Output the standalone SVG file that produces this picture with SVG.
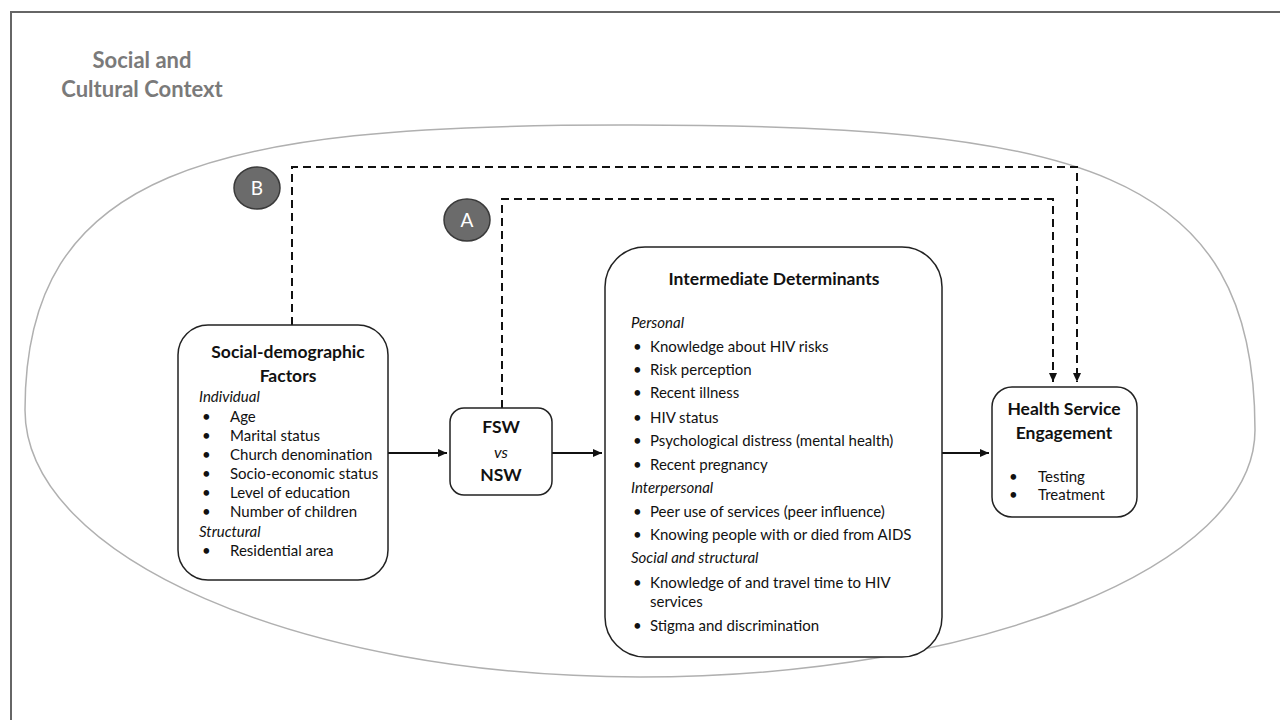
<svg xmlns="http://www.w3.org/2000/svg" width="1280" height="720" viewBox="0 0 1280 720">
<style>
text{font-family:Lato,"Open Sans","Liberation Sans",sans-serif;fill:#111}
.t{font-weight:bold;font-size:17.5px}
.b{font-size:15px}
.i{font-size:15px;font-style:italic}
.box{fill:#fff;stroke:#222;stroke-width:1.5}
.solid{fill:none;stroke:#111;stroke-width:2}
.dash{fill:none;stroke:#111;stroke-width:2;stroke-dasharray:8 5}
.badge{fill:#6b6b6b;stroke:#3a3a3a;stroke-width:1.5}
.bt{fill:#fff;font-size:19px;text-anchor:middle}
</style>
<defs>
<marker id="ah" markerWidth="10" markerHeight="10" refX="9" refY="5" orient="auto" markerUnits="userSpaceOnUse">
<path d="M0,1 L9,5 L0,9 Z" fill="#111"/>
</marker>
</defs>
<rect width="1280" height="720" fill="#fff"/>
<path d="M11,720 V12 H1280" fill="none" stroke="#666" stroke-width="2"/>
<g id="context">
<path d="M25,410 C25,170 210,125 620,125 C1080,124 1255,170 1255,430 C1255,566 979,677 640,677 C300,677 25,557 25,410 Z" fill="none" stroke="#b0b0b0" stroke-width="1.5"/>
<text x="142" y="68" text-anchor="middle" style="fill:#7a7a7a;font-weight:bold;font-size:22px">Social and</text>
<text x="142" y="97" text-anchor="middle" style="fill:#7a7a7a;font-weight:bold;font-size:22px">Cultural Context</text>
</g>
<g id="connectors">
<path class="dash" d="M292,325 V167 H1077 V382" marker-end="url(#ah)"/>
<path class="dash" d="M502,408 V199 H1053 V382" marker-end="url(#ah)"/>
<path class="solid" d="M388,453 H447" marker-end="url(#ah)"/>
<path class="solid" d="M552,453 H602" marker-end="url(#ah)"/>
<path class="solid" d="M942,453 H989" marker-end="url(#ah)"/>
</g>
<g id="badgeB">
<ellipse class="badge" cx="257" cy="188" rx="23" ry="21"/>
<text class="bt" x="257" y="195">B</text>
</g>
<g id="badgeA">
<ellipse class="badge" cx="467" cy="220" rx="23" ry="21"/>
<text class="bt" x="467" y="227">A</text>
</g>
<g id="socialDemographic">
<rect class="box" x="178" y="325" width="210" height="255" rx="30"/>
<text class="t" x="288" y="358" text-anchor="middle">Social-demographic</text>
<text class="t" x="288" y="382" text-anchor="middle">Factors</text>
<text class="i" x="199" y="402">Individual</text>
<g class="b">
<text x="202" y="422">•</text><text x="230" y="422">Age</text>
<text x="202" y="441">•</text><text x="230" y="441">Marital status</text>
<text x="202" y="460">•</text><text x="230" y="460">Church denomination</text>
<text x="202" y="479">•</text><text x="230" y="479">Socio-economic status</text>
<text x="202" y="498">•</text><text x="230" y="498">Level of education</text>
<text x="202" y="517">•</text><text x="230" y="517">Number of children</text>
</g>
<text class="i" x="199" y="537">Structural</text>
<text class="b" x="202" y="556">•</text><text class="b" x="230" y="556">Residential area</text>
</g>
<g id="fswNsw">
<rect class="box" x="450" y="408" width="102" height="87" rx="14"/>
<text class="t" x="501" y="433" text-anchor="middle">FSW</text>
<text class="i" x="501" y="458" text-anchor="middle" style="font-size:16px">vs</text>
<text class="t" x="501" y="481" text-anchor="middle">NSW</text>
</g>
<g id="intermediate">
<rect class="box" x="605" y="247" width="337" height="410" rx="40"/>
<text class="t" x="774" y="285" text-anchor="middle" style="font-size:17.5px">Intermediate Determinants</text>
<text class="i" x="631" y="328">Personal</text>
<g class="b">
<text x="633" y="352">•</text><text x="650" y="352">Knowledge about HIV risks</text>
<text x="633" y="375">•</text><text x="650" y="375">Risk perception</text>
<text x="633" y="398">•</text><text x="650" y="398">Recent illness</text>
<text x="633" y="423">•</text><text x="650" y="423">HIV status</text>
<text x="633" y="446">•</text><text x="650" y="446">Psychological distress (mental health)</text>
<text x="633" y="470">•</text><text x="650" y="470">Recent pregnancy</text>
</g>
<text class="i" x="631" y="493">Interpersonal</text>
<g class="b">
<text x="633" y="517">•</text><text x="650" y="517">Peer use of services (peer influence)</text>
<text x="633" y="540">•</text><text x="650" y="540">Knowing people with or died from AIDS</text>
</g>
<text class="i" x="631" y="563">Social and structural</text>
<g class="b">
<text x="633" y="588">•</text><text x="650" y="588">Knowledge of and travel time to HIV</text>
<text x="650" y="607">services</text>
<text x="633" y="631">•</text><text x="650" y="631">Stigma and discrimination</text>
</g>
</g>
<g id="healthService">
<rect class="box" x="992" y="387" width="145" height="130" rx="20"/>
<text class="t" x="1064" y="415" text-anchor="middle">Health Service</text>
<text class="t" x="1064" y="439" text-anchor="middle">Engagement</text>
<g class="b">
<text x="1009" y="482">•</text><text x="1038" y="482">Testing</text>
<text x="1009" y="500">•</text><text x="1038" y="500">Treatment</text>
</g>
</g>
</svg>
